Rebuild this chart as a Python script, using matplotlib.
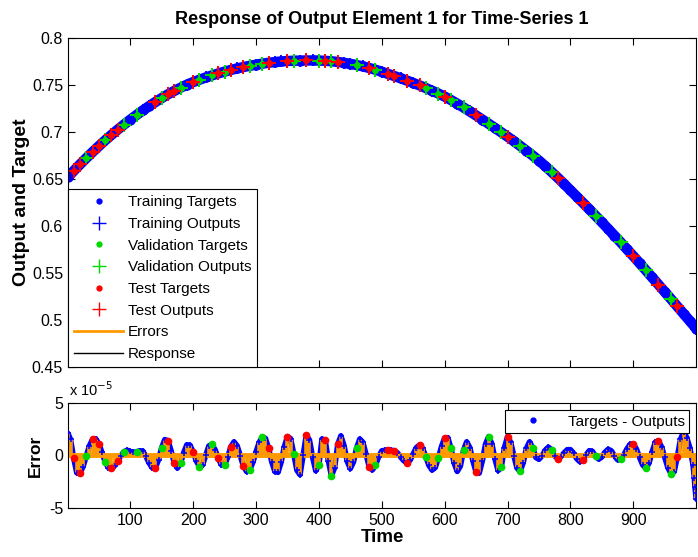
import matplotlib
matplotlib.use('Agg')
import matplotlib.pyplot as plt
from matplotlib.lines import Line2D
import numpy as np

plt.rcParams['font.family'] = ['Liberation Sans', 'DejaVu Sans']

# response (targets ~ outputs) read at t = 1, 10, 20, ..., 1000
resp_t = [1] + list(range(10, 1001, 10))
resp_vals = [
    .6520, .6585, .6654, .6721, .6786, .6849, .6910, .6968, .7024, .7078,
    .7130, .7180, .7228, .7274, .7318, .7360, .7400, .7436, .7470, .7502,
    .7530, .7555, .7579, .7601, .7622, .7641, .7659, .7675, .7690, .7703,
    .7715, .7726, .7735, .7743, .7749, .7754, .7757, .7759, .7760, .7760,
    .7759, .7756, .7751, .7744, .7735, .7724, .7711, .7697, .7680, .7661,
    .7640, .7617, .7594, .7570, .7546, .7521, .7495, .7467, .7438, .7408,
    .7376, .7339, .7300, .7260, .7218, .7175, .7131, .7087, .7042, .6996,
    .6950, .6902, .6852, .6801, .6749, .6695, .6636, .6575, .6512, .6447,
    .6380, .6313, .6246, .6178, .6109, .6040, .5969, .5898, .5826, .5753,
    .5680, .5605, .5529, .5453, .5377, .5300, .5223, .5145, .5067, .4989,
    .4910,
]

# errors (targets - outputs), in units of 1e-5
err_t = [1] + list(range(5, 1000, 5)) + [997, 998, 999, 1000]
err_vals = [
    2.10, 1.53, -0.23, -1.65, -1.69, -1.05, -0.08, 0.90, 1.54, 1.60,
    1.12, 0.29, -0.58, -1.15, -1.23, -0.98, -0.53, -0.03, 0.36, 0.50,
    0.38, 0.30, 0.35, 0.45, 0.42, -0.09, -0.71, -1.17, -1.17, -0.40,
    0.75, 1.52, 1.41, 0.44, -0.70, -1.20, -0.74, 0.27, 1.02, 0.98,
    0.34, -0.50, -1.05, -0.91, 0.00, 0.91, 1.05, 0.53, -0.27, -0.89,
    -0.92, -0.17, 0.84, 1.30, 0.92, -0.02, -1.01, -1.53, -1.36, -0.65,
    0.33, 1.24, 1.75, 1.63, 0.69, -0.59, -1.53, -1.60, -0.62, 0.82,
    1.80, 1.61, 0.17, -1.40, -1.83, 0.05, 1.93, 1.47, -0.15, -1.46,
    -0.88, 1.57, 1.47, -0.49, -1.95, -1.16, 1.06, 1.87, 0.93, -0.55,
    -1.25, -0.62, 0.72, 1.57, 1.25, 0.10, -1.05, -1.38, -0.93, -0.13,
    0.44, 0.50, 0.55, 0.50, 0.45, 0.25, -0.15, -0.50, -0.70, -0.45,
    0.15, 0.75, 1.00, 0.68, -0.11, -0.95, -1.39, -1.15, -0.25, 0.86,
    1.66, 1.70, 0.70, -0.71, -1.52, -1.01, 0.49, 1.30, 0.75, -0.52,
    -1.59, -1.68, -0.49, 1.08, 1.80, 1.13, -0.33, -1.44, -1.13, 0.72,
    1.80, 1.26, -0.01, -1.19, -1.52, -0.67, 0.67, 1.30, 0.75, -0.19,
    -0.36, -0.01, 0.50, 0.79, 0.56, -0.06, -0.29, -0.10, 0.26, 0.55,
    0.56, 0.21, -0.30, -0.59, -0.44, 0.06, 0.46, 0.39, -0.08, -0.35,
    -0.14, 0.31, 0.59, 0.45, -0.03, -0.41, -0.37, 0.06, 0.64, 1.07,
    1.10, 0.61, -0.19, -0.91, -1.20, -0.73, 0.36, 1.27, 1.39, 0.81,
    -0.18, -1.16, -1.74, -1.53, -0.13, 1.53, 2.25, 1.70, 0.70, -0.90,
    -2.10, -3.00, -3.60, -4.10,
]

# time steps assigned to validation / test sets
val_times = [30, 60, 90, 110, 150, 180, 210, 230, 250, 290, 310, 360, 400, 420,
             460, 490, 570, 590, 610, 630, 670, 690, 720, 740, 770, 840, 880,
             920, 960]
test_times = [10, 20, 40, 50, 70, 80, 140, 160, 170, 200, 240, 260, 280, 320,
              350, 380, 410, 430, 480, 510, 520, 540, 560, 600, 650, 700, 780,
              820, 900, 940, 970]

ytick_vals = [0.45, 0.5, 0.55, 0.6, 0.65, 0.7, 0.75, 0.8]
ytick_labels = ['0.45', '0.5', '0.55', '0.6', '0.65', '0.7', '0.75', '0.8']
xtick_vals = [100, 200, 300, 400, 500, 600, 700, 800, 900]

BLUE, GREEN, RED, ORANGE = (0, 0, 1), (0, 0.85, 0), (1, 0, 0), (1, 0.6, 0)

rt = np.array(resp_t)
rv = np.array(resp_vals)
et = np.array(err_t)
ev = np.array(err_vals)

def split(t):
    v = np.isin(t, val_times)
    s = np.isin(t, test_times)
    return ~(v | s), v, s

fig = plt.figure(figsize=(6.98, 5.57), dpi=100)
ax1 = fig.add_axes([0.0974, 0.341, 0.900, 0.591])
ax2 = fig.add_axes([0.0974, 0.088, 0.900, 0.1885])

# top: response (dense training markers form the blue band)
tr, va, te = split(rt)
ax1.plot(rt, rv, color='k', lw=1)
ax1.plot(rt, rv, color=BLUE, lw=7.5, solid_capstyle='round')
ax1.plot(rt[tr], rv[tr], '.', color=BLUE, ms=13)
ax1.plot(rt[tr], rv[tr], '+', color=BLUE, ms=9, mew=1.3)
for mask, c in [(va, GREEN), (te, RED)]:
    ax1.plot(rt[mask], rv[mask], '.', color=c, ms=8)
    ax1.plot(rt[mask], rv[mask], '+', color=c, ms=10, mew=1.4)

ax1.set_xlim(1, 1000)
ax1.set_ylim(0.45, 0.8)
ax1.set_yticks(ytick_vals)
ax1.set_yticklabels(ytick_labels)
ax1.set_xticks(xtick_vals)
ax1.set_xticklabels([])
ax1.set_ylabel('Output and Target', fontsize=14, fontweight='bold', labelpad=1)
ax1.set_title('Response of Output Element 1 for Time-Series 1',
              fontsize=13, fontweight='bold', pad=10)

handles = [
    Line2D([], [], ls='none', marker='.', color=BLUE, ms=7),
    Line2D([], [], ls='none', marker='+', color=BLUE, ms=10),
    Line2D([], [], ls='none', marker='.', color=GREEN, ms=7),
    Line2D([], [], ls='none', marker='+', color=GREEN, ms=10),
    Line2D([], [], ls='none', marker='.', color=RED, ms=7),
    Line2D([], [], ls='none', marker='+', color=RED, ms=10),
    Line2D([], [], color=ORANGE, lw=2),
    Line2D([], [], color='k', lw=1),
]
labels = ['Training Targets', 'Training Outputs', 'Validation Targets',
          'Validation Outputs', 'Test Targets', 'Test Outputs', 'Errors',
          'Response']
leg = ax1.legend(handles, labels, loc='lower left', bbox_to_anchor=(0, 0),
                 borderaxespad=0, fontsize=11, fancybox=False,
                 edgecolor='k', framealpha=1, handlelength=3.2,
                 labelspacing=0.5, handletextpad=0.3, borderpad=0.4)
leg.get_frame().set_linewidth(0.8)

# bottom: errors as orange stems over the blue band, markers on top
tr, va, te = split(et)
ax2.plot(et, ev, color=BLUE, lw=4, solid_capstyle='round', zorder=2)
ax2.axhline(0, color=ORANGE, lw=3.5, zorder=2.4)
ax2.vlines(et, 0, ev, color=ORANGE, lw=2.6, zorder=2.5)
ax2.plot(et[tr], ev[tr], '+', color=BLUE, ms=5, mew=1.1, zorder=3)
for mask, c in [(va, GREEN), (te, RED)]:
    ax2.plot(et[mask], ev[mask], '.', color=c, ms=9, zorder=4)
    ax2.plot(et[mask], ev[mask], '+', color=c, ms=5, mew=1.0, zorder=4)

ax2.set_xlim(1, 1000)
ax2.set_ylim(-5, 5)
ax2.set_yticks([-5, 0, 5])
ax2.set_yticklabels(['-5', '0', '5'])
ax2.set_xticks(xtick_vals)
ax2.set_xlabel('Time', fontsize=13.5, fontweight='bold', labelpad=1)
ax2.set_ylabel('Error', fontsize=12.5, fontweight='bold')
ax2.text(0.002, 1.04, r'x 10$^{-5}$', transform=ax2.transAxes,
         ha='left', va='bottom', fontsize=10.5)
leg2 = ax2.legend([Line2D([], [], ls='none', marker='.', color=BLUE, ms=7)],
                  ['Targets - Outputs'], loc='upper right',
                  bbox_to_anchor=(0.989, 0.933), borderaxespad=0, fontsize=11,
                  fancybox=False, edgecolor='k', framealpha=1,
                  handlelength=3.0, borderpad=0.3)
leg2.get_frame().set_linewidth(0.8)
leg2.set_zorder(10)

for ax in (ax1, ax2):
    ax.tick_params(direction='in', top=True, right=True, labelsize=11.5,
                   length=5)
    for sp in ax.spines.values():
        sp.set_linewidth(0.8)

fig.savefig('out.png', dpi=100)
